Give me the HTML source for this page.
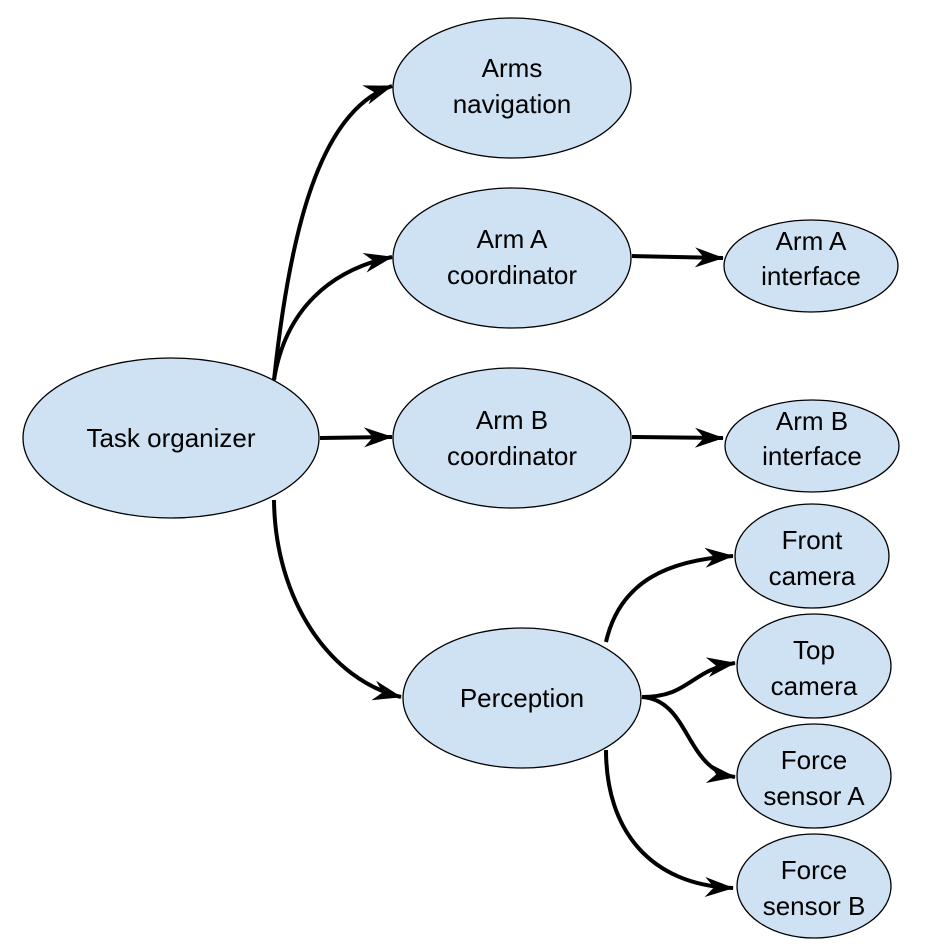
<!DOCTYPE html>
<html><head><style>html,body{margin:0;padding:0;background:#fff}</style></head>
<body>
<svg width="943" height="942" viewBox="0 0 943 942" xmlns="http://www.w3.org/2000/svg">
<defs>
<marker id="a" markerUnits="userSpaceOnUse" markerWidth="34" markerHeight="26" refX="30" refY="13" orient="auto" viewBox="0 0 34 26">
<path d="M31,13 L2,3 L11,13 L2,23 Z" fill="#000"/>
</marker>
</defs>
<g fill="none" stroke="#000" stroke-width="4" marker-end="url(#a)">
<path d="M274,380 C290,230 320,110 392,86"/>
<path d="M274,380 C285,310 330,270 392,257"/>
<path d="M320,438 L392,437"/>
<path d="M274,500 C275,600 330,680 401,697"/>
<path d="M632,256 L723,258"/>
<path d="M632,437 L723,438"/>
<path d="M606,642 C620,580 670,560 733,556"/>
<path d="M642,697 C690,697 690,670 735,663"/>
<path d="M642,697 C690,700 685,770 735,777"/>
<path d="M606,750 C606,830 650,885 733,888"/>
</g>
<g fill="#cfe2f3" stroke="#000" stroke-width="1.3">
<ellipse cx="171" cy="438" rx="148" ry="80"/>
<ellipse cx="512" cy="88" rx="119" ry="70"/>
<ellipse cx="512" cy="258" rx="119" ry="70"/>
<ellipse cx="512" cy="438" rx="119" ry="70"/>
<ellipse cx="811" cy="266" rx="87" ry="46"/>
<ellipse cx="812" cy="446" rx="87" ry="46"/>
<ellipse cx="522" cy="698" rx="119" ry="70"/>
<ellipse cx="812" cy="556" rx="77" ry="52"/>
<ellipse cx="814" cy="666" rx="77" ry="52"/>
<ellipse cx="814" cy="776" rx="77" ry="52"/>
<ellipse cx="814" cy="886" rx="77" ry="52"/>
</g>
<g font-family="Liberation Sans, Arial, sans-serif" font-size="26" text-anchor="middle" fill="#000">
<text x="171" y="447">Task organizer</text>
<text x="512" y="77">Arms</text><text x="512" y="113">navigation</text>
<text x="512" y="248">Arm A</text><text x="512" y="284">coordinator</text>
<text x="512" y="429">Arm B</text><text x="512" y="465">coordinator</text>
<text x="811" y="250">Arm A</text><text x="811" y="285">interface</text>
<text x="812" y="430">Arm B</text><text x="812" y="465">interface</text>
<text x="522" y="707">Perception</text>
<text x="812" y="549">Front</text><text x="812" y="585">camera</text>
<text x="814" y="659">Top</text><text x="814" y="695">camera</text>
<text x="814" y="769">Force</text><text x="814" y="805">sensor A</text>
<text x="814" y="879">Force</text><text x="814" y="915">sensor B</text>
</g>
</svg>
</body></html>
